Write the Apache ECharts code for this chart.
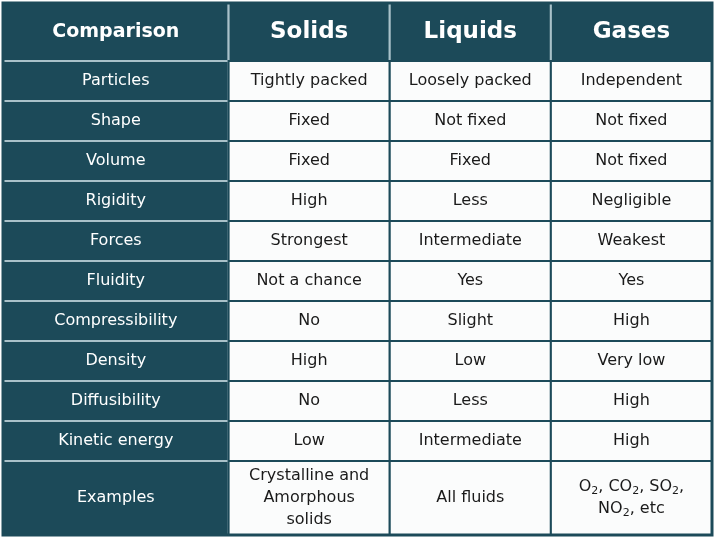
<!DOCTYPE html>
<html><head><meta charset="utf-8">
<script src="https://cdn.jsdelivr.net/npm/echarts@6/dist/echarts.min.js"></script>
<style>html,body{margin:0;padding:0;background:#fff}#c{width:720px;height:542px}</style>
</head><body><div id="c"></div>
<script>
var headers = ['Comparison', 'Solids', 'Liquids', 'Gases'];
var rowLabels = ['Particles','Shape','Volume','Rigidity','Forces','Fluidity','Compressibility','Density','Diffusibility','Kinetic energy','Examples'];
var solids = ['Tightly packed','Fixed','Fixed','High','Strongest','Not a chance','No','High','No','Low','Crystalline and\nAmorphous\nsolids'];
var liquids = ['Loosely packed','Not fixed','Fixed','Less','Intermediate','Yes','Slight','Low','Less','Intermediate','All fluids'];
var gases = ['Independent','Not fixed','Not fixed','Negligible','Weakest','Yes','High','Very low','High','High','O{s|2}, CO{s|2}, SO{s|2},\nNO{s|2}, etc'];

var DARK = '#1c4a59';
var colW = [1.4, 1, 1, 1];
var colX = [0]; colW.forEach(function(w,i){ colX.push(colX[i]+w); });
var rowH = [1.45]; rowLabels.forEach(function(r,i){ rowH.push(i === rowLabels.length-1 ? 1.85 : 1); });
var rowY = [0]; rowH.forEach(function(h,i){ rowY.push(rowY[i]+h); });

var data = [];
headers.forEach(function(h,c){ data.push([c, 0, h]); });
rowLabels.forEach(function(r,i){
  data.push([0, i+1, r]); data.push([1, i+1, solids[i]]);
  data.push([2, i+1, liquids[i]]); data.push([3, i+1, gases[i]]);
});

function renderItem(params, api) {
  var c = api.value(0), r = api.value(1), t = data[params.dataIndex][2];
  var p0 = api.coord([colX[c], rowY[r]]), p1 = api.coord([colX[c+1], rowY[r+1]]);
  var dark = (r === 0 || c === 0);
  var fs = r === 0 ? (c === 0 ? 19 : 23) : 16;
  return {
    type: 'group', children: [
      { type: 'rect', shape: {x: p0[0], y: p0[1], width: p1[0]-p0[0], height: p1[1]-p0[1]},
        style: {fill: dark ? DARK : '#fbfcfc', stroke: dark ? '#a9c1c9' : DARK, lineWidth: 2} },
      { type: 'text', x: (p0[0]+p1[0])/2, y: (p0[1]+p1[1])/2,
        style: { text: t, align: 'center', verticalAlign: 'middle',
          fill: dark ? '#fff' : '#1a1a1a', fontFamily: 'DejaVu Sans',
          fontWeight: r === 0 ? 'bold' : 'normal', fontSize: fs, lineHeight: 22,
          rich: { s: { fontSize: 11, fontFamily: 'DejaVu Sans', fill: '#1a1a1a', padding: [8,0,0,0] } } } }
    ]
  };
}

var chart = echarts.init(document.getElementById('c'));
chart.setOption({
  animation: false,
  grid: {left: 3, right: 8, top: 3, bottom: 7},
  xAxis: {type: 'value', min: 0, max: colX[colX.length-1], show: false},
  yAxis: {type: 'value', min: 0, max: rowY[rowY.length-1], inverse: true, show: false},
  series: [{type: 'custom', renderItem: renderItem, data: data.map(function(d){ return [d[0], d[1]]; })},
    {type: 'custom', renderItem: function(p, api){
      var a = api.coord([0,0]), b = api.coord([colX[4], rowY[rowY.length-1]]);
      return {type:'rect', shape:{x:a[0],y:a[1],width:b[0]-a[0],height:b[1]-a[1]}, style:{fill:'none',stroke:DARK,lineWidth:3}};
    }, data: [[0,0]]}]
});
</script></body></html>
